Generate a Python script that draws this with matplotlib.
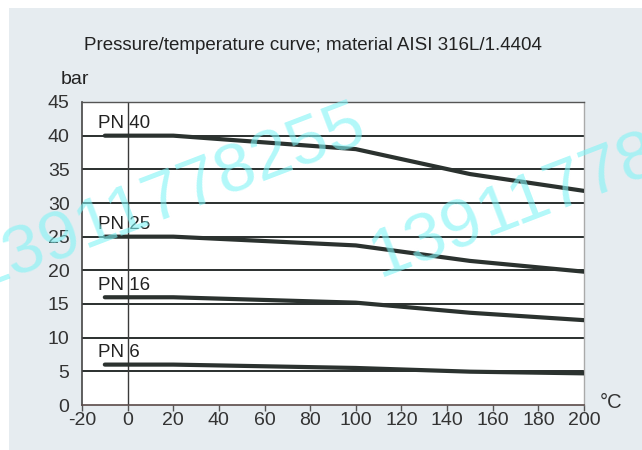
import matplotlib
matplotlib.use('Agg')
import matplotlib.pyplot as plt
from matplotlib.patches import Rectangle

plt.rcParams['font.family'] = ['Liberation Sans', 'DejaVu Sans']

# temperature / pressure points
temps = [-10, 20, 100, 150, 200]
pn40 = [40, 40, 38, 34.3, 31.8]
pn25 = [25, 25, 23.7, 21.4, 19.8]
pn16 = [16, 16, 15.2, 13.7, 12.6]
pn6 = [6, 6, 5.5, 4.95, 4.7]

series = [('PN 40', pn40), ('PN 25', pn25), ('PN 16', pn16), ('PN 6', pn6)]
label_y = [40, 25, 16, 6]

xticks = list(range(-20, 201, 20))
yticks = list(range(0, 46, 5))

bg = '#e6ecf0'
ink = '#2b322f'

fig = plt.figure(figsize=(6.42, 4.5), dpi=100)
fig.patch.set_facecolor(bg)
# thin white border on top and left
fig.patches.append(Rectangle((0, 1 - 8/450), 1, 8/450, transform=fig.transFigure,
                             facecolor='white', edgecolor='none', zorder=0))
fig.patches.append(Rectangle((0, 0), 9/642, 1, transform=fig.transFigure,
                             facecolor='white', edgecolor='none', zorder=0))

ax = fig.add_axes([82/642, 1 - 405/450, (584 - 82)/642, (405 - 102)/450])
ax.set_facecolor('white')
ax.set_xlim(-20, 200)
ax.set_ylim(0, 45)

# horizontal grid and the 0 deg line
for y in yticks[1:-1]:
    ax.axhline(y, color='#2a2f2e', lw=1.4, zorder=1)
ax.axvline(0, color='#3a3a3a', lw=1.0, zorder=1)

for (name, vals), ly in zip(series, label_y):
    ax.plot(temps, vals, color=ink, lw=3.0, solid_capstyle='round', zorder=3)
    ax.text(-13, ly + 0.5, name, fontsize=13.5, color='#222222',
            ha='left', va='bottom', zorder=4)

ax.set_xticks(xticks)
ax.set_yticks(yticks)
ax.tick_params(axis='x', direction='out', length=4, width=1, color='#555555',
               labelsize=14, labelcolor='#333333', pad=1)
ax.tick_params(axis='y', length=0, labelsize=14, labelcolor='#333333', pad=9)
ax.set_xticklabels(['-20'] + [str(t) for t in xticks[1:]])

ax.spines['left'].set_color('#444444')
ax.spines['left'].set_linewidth(1.2)
ax.spines['top'].set_color('#555555')
ax.spines['top'].set_linewidth(1.0)
ax.spines['right'].set_color('#aaaaaa')
ax.spines['right'].set_linewidth(1.0)
ax.spines['bottom'].set_color('#5a4a48')
ax.spines['bottom'].set_linewidth(1.2)

fig.text(313/642, 1 - 45/450, 'Pressure/temperature curve; material AISI 316L/1.4404',
         ha='center', va='center', fontsize=13.5, color='#222222')
fig.text(75/642, 1 - 80/450, 'bar', ha='center', va='center', fontsize=14, color='#222222')
fig.text(611/642, 1 - 403/450, '°C', ha='center', va='center', fontsize=14.5, color='#333333')

# watermark
wm = dict(fontsize=50, color='#80f4f6', alpha=0.6, rotation=21,
          rotation_mode='anchor', ha='left', va='baseline', zorder=10)
fig.text(-22/642, 1 - 290/450, '13911778255', **wm)
fig.text(380/642, 1 - 278/450, '13911778255', **wm)

fig.savefig('out.png', dpi=100, facecolor=bg)
